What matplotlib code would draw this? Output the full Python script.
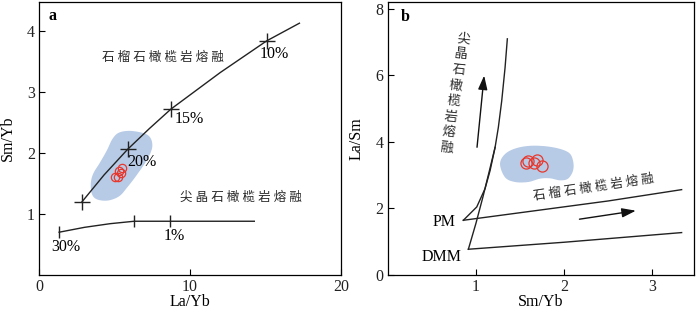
import numpy as np
import matplotlib.pyplot as plt
from matplotlib.patches import Polygon

plt.rcParams['font.family'] = ['Liberation Serif', 'Noto Sans CJK SC']
plt.rcParams['font.size'] = 11.5

# ---- panel a data (La/Yb vs Sm/Yb)
grt_x = [2.84, 4.3, 5.86, 7.3, 8.73, 12.0, 15.08, 17.25]
grt_y = [1.20, 1.64, 2.06, 2.40, 2.72, 3.32, 3.84, 4.13]
grt_tick_x = [2.84, 5.86, 8.73, 15.08]
grt_tick_y = [1.20, 2.06, 2.72, 3.84]
sp_x = [1.32, 3.0, 4.7, 6.3, 8.67, 14.26]
sp_y = [0.70, 0.78, 0.84, 0.88, 0.88, 0.88]
sp_tick_x = [1.32, 6.3, 8.67]
sp_tick_y = [0.70, 0.88, 0.88]
blob_a = [(4.88, 2.24), (5.35, 2.34), (6.21, 2.36), (7.22, 2.29), (7.50, 2.12),
          (7.20, 1.91), (6.50, 1.65), (5.85, 1.44), (5.30, 1.29), (4.55, 1.22),
          (3.82, 1.24), (3.49, 1.33), (3.42, 1.50), (3.58, 1.66), (4.02, 1.84),
          (4.48, 2.04)]
samp_a_x = [5.0, 5.23, 5.39, 5.46, 5.3]
samp_a_y = [1.60, 1.61, 1.67, 1.76, 1.70]

# ---- panel b data (Sm/Yb vs La/Sm)
pm_x = [0.857, 1.009, 1.103, 1.160, 1.217, 1.254, 1.292, 1.330, 1.356]
pm_y = [1.64, 2.04, 2.59, 3.13, 3.83, 4.43, 5.22, 6.22, 7.09]
dmm_x = [0.914, 1.0, 1.08, 1.15, 1.217]
dmm_y = [0.77, 1.55, 2.35, 3.10, 3.83]
pm_grt_x = [0.857, 1.651, 2.5, 3.333]
pm_grt_y = [1.64, 1.92, 2.22, 2.56]
dmm_grt_x = [0.914, 2.0, 3.333]
dmm_grt_y = [0.77, 0.98, 1.27]
blob_b = [(1.273, 3.33), (1.330, 3.63), (1.463, 3.81), (1.651, 3.88), (1.878, 3.83),
          (2.048, 3.68), (2.101, 3.43), (2.101, 3.13), (2.044, 2.89), (1.954, 2.84),
          (1.840, 2.90), (1.727, 2.89), (1.594, 2.79), (1.443, 2.79), (1.330, 2.93)]
samp_b_x = [1.594, 1.689, 1.659, 1.746, 1.568]
samp_b_y = [3.43, 3.45, 3.36, 3.26, 3.35]

blue = '#b7cbe6'
red = '#e8372c'
ink = '#222222'
grt_label = ' '.join('石榴石橄榄岩熔融')
sp_label = ' '.join('尖晶石橄榄岩熔融')


def smooth_closed(pts, n=16):
    # closed Catmull-Rom outline through the traced points
    p = np.array(pts)
    out = []
    for i in range(len(p)):
        p0, p1, p2, p3 = p[i - 1], p[i], p[(i + 1) % len(p)], p[(i + 2) % len(p)]
        for t in np.linspace(0, 1, n, endpoint=False):
            out.append(0.5 * (2 * p1 + (p2 - p0) * t
                              + (2 * p0 - 5 * p1 + 4 * p2 - p3) * t ** 2
                              + (3 * p1 - p0 - 3 * p2 + p3) * t ** 3))
    return np.array(out)


fig = plt.figure(figsize=(7, 3.12), dpi=100)
ax1 = fig.add_axes([0.056, 0.119, 0.431, 0.875])
ax2 = fig.add_axes([0.554, 0.119, 0.437, 0.875])

# panel a
ax1.add_patch(Polygon(smooth_closed(blob_a), closed=True, fc=blue, ec='none'))
ax1.plot(grt_x, grt_y, color=ink, lw=1)
ax1.plot(grt_tick_x, grt_tick_y, '+', color=ink, ms=11, mew=1)
ax1.plot(sp_x, sp_y, color=ink, lw=1)
ax1.plot(sp_tick_x, sp_tick_y, '|', color=ink, ms=9, mew=1)
ax1.plot(samp_a_x, samp_a_y, 'o', mfc='none', mec=red, ms=6, mew=0.9)
ax1.text(15.6, 3.63, '10%', ha='center', va='center')
ax1.text(9.95, 2.55, '15%', ha='center', va='center')
ax1.text(6.8, 1.85, '20%', ha='center', va='center')
ax1.text(1.76, 0.45, '30%', ha='center', va='center')
ax1.text(8.95, 0.64, '1%', ha='center', va='center')
ax1.text(8.18, 3.56, grt_label, ha='center', va='center', fontsize=9, color='#2a2a2a')
ax1.text(13.4, 1.26, sp_label, ha='center', va='center', fontsize=9, color='#2a2a2a')
ax1.text(0.6, 4.25, 'a', fontweight='bold', ha='left', va='center', fontsize=11.5)
ax1.set_xlim(0, 20)
ax1.set_ylim(0, 4.48)
ax1.set_xticks([0, 10, 20])
ax1.set_yticks([1, 2, 3, 4])
ax1.set_xlabel('La/Yb', labelpad=-1)
ax1.set_ylabel('Sm/Yb', labelpad=8)

# panel b
ax2.add_patch(Polygon(smooth_closed(blob_b), closed=True, fc=blue, ec='none'))
ax2.plot(pm_x, pm_y, color=ink, lw=1)
ax2.plot(dmm_x, dmm_y, color=ink, lw=1)
ax2.plot(pm_grt_x, pm_grt_y, color=ink, lw=1)
ax2.plot(dmm_grt_x, dmm_grt_y, color=ink, lw=1)
ax2.plot(samp_b_x, samp_b_y, 'o', mfc='none', mec=red, ms=8, mew=0.9)
ax2.annotate('', xy=(1.096, 6.07), xytext=(1.009, 3.75),
             arrowprops=dict(arrowstyle='-|>,head_length=0.6,head_width=0.2',
                             color='#111111', lw=1, mutation_scale=14))
ax2.annotate('', xy=(2.845, 1.94), xytext=(2.143, 1.66),
             arrowprops=dict(arrowstyle='-|>,head_length=0.6,head_width=0.2',
                             color='#111111', lw=1, mutation_scale=14))
ax2.text(0.64, 1.59, 'PM', ha='center', va='center')
ax2.text(0.61, 0.55, 'DMM', ha='center', va='center')
# vertical, slightly slanted column of characters
for i, ch in enumerate('尖晶石橄榄岩熔融'):
    ax2.annotate(ch, xy=(0.86, 7.07), xytext=(-1.8 * i, -11.2 * i),
                 textcoords='offset points', ha='center', va='center',
                 rotation=-6, fontsize=9.5, color='#2a2a2a')
ax2.text(2.34, 2.62, grt_label, ha='center', va='center', rotation=8.5,
         rotation_mode='anchor', fontsize=9, color='#2a2a2a')
ax2.text(0.15, 7.75, 'b', fontweight='bold', ha='left', va='center', fontsize=11.5)
ax2.set_xlim(0, 3.47)
ax2.set_ylim(0, 8.2)
ax2.set_xticks([1, 2, 3])
ax2.set_yticks([0, 2, 4, 6, 8])
ax2.set_xlabel('Sm/Yb', labelpad=-1)
ax2.set_ylabel('La/Sm', labelpad=8)

for ax in (ax1, ax2):
    ax.tick_params(direction='in', length=4, width=0.8, labelsize=11.5, pad=3,
                   labelcolor='#222222')
    for s in ax.spines.values():
        s.set_linewidth(0.9)

fig.savefig('out.png', dpi=100)
